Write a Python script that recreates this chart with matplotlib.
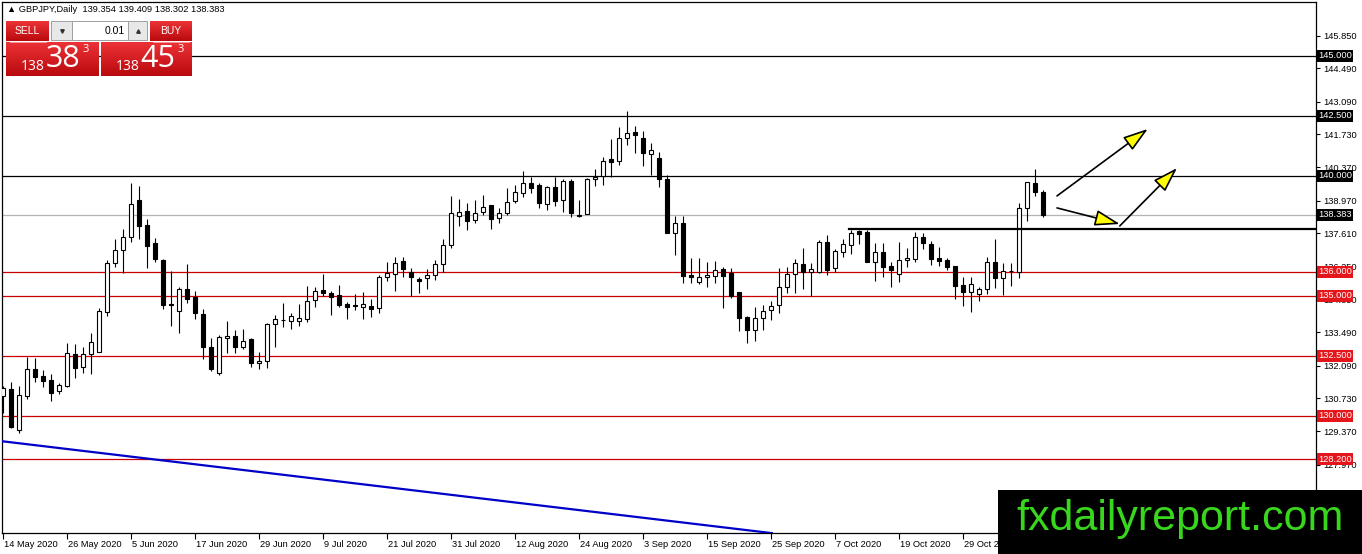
import numpy as np
import matplotlib.pyplot as plt
from matplotlib.patches import Rectangle, FancyArrowPatch
from matplotlib.colors import LinearSegmentedColormap
import matplotlib.transforms as mtransforms

plt.rcParams['font.family'] = ['Liberation Sans', 'DejaVu Sans']

# GBPJPY daily candles, 14 May 2020 onwards
opens = [130.85, 131.13, 129.40, 130.85, 131.94, 131.67, 131.50, 131.03, 131.26, 132.58,
         132.03, 132.58, 132.68, 134.35, 136.36, 136.90, 137.47, 139.00, 137.96, 137.19,
         136.50, 134.65, 134.39, 135.28, 134.94, 134.25, 132.86, 131.78, 133.24, 133.33,
         132.89, 133.21, 132.19, 132.28, 133.82, 134.01, 133.96, 133.97, 134.03, 134.83,
         135.25, 135.11, 135.04, 134.67, 134.62, 134.53, 134.60, 134.49, 135.78, 135.92,
         136.46, 136.01, 135.69, 135.74, 135.88, 136.32, 137.12, 138.35, 138.54, 138.17,
         138.49, 138.78, 138.24, 138.47, 138.97, 139.31, 139.69, 139.61, 138.82, 139.53,
         139.00, 139.79, 138.38, 138.40, 139.86, 140.00, 140.71, 140.64, 141.57, 141.85,
         141.57, 140.90, 140.74, 139.86, 137.61, 138.03, 135.88, 135.60, 135.78, 135.83,
         136.11, 135.94, 135.15, 134.11, 133.58, 134.07, 134.42, 134.63, 135.36, 135.92,
         136.33, 136.01, 136.01, 137.24, 136.15, 136.85, 137.13, 137.71, 137.65, 136.40,
         136.82, 136.25, 135.90, 136.49, 136.56, 137.44, 137.15, 136.58, 136.50, 136.25,
         135.44, 135.18, 135.07, 135.28, 136.40, 135.74, 136.03, 135.99, 138.65, 139.69,
         139.354]
highs = [131.25, 131.40, 131.25, 132.47, 132.40, 131.92, 131.75, 131.39, 133.06, 133.00,
         132.89, 133.44, 134.51, 136.50, 137.38, 137.78, 139.72, 139.60, 138.21, 137.40,
         136.53, 136.06, 135.39, 136.33, 135.19, 134.47, 133.24, 133.38, 133.97, 133.58,
         133.61, 133.24, 132.67, 133.86, 134.19, 134.72, 134.28, 134.67, 135.42, 135.39,
         135.92, 135.22, 135.46, 134.76, 135.08, 135.17, 134.86, 135.88, 136.43, 136.61,
         136.61, 136.15, 135.81, 136.14, 136.50, 137.39, 139.17, 139.03, 138.86, 139.00,
         139.21, 138.80, 138.65, 139.49, 139.63, 140.21, 139.94, 139.69, 139.58, 139.97,
         139.86, 139.86, 139.00, 139.92, 140.28, 140.81, 141.54, 142.03, 142.71, 142.10,
         141.89, 141.39, 141.01, 140.04, 138.33, 138.33, 136.60, 136.60, 136.40, 136.46,
         136.22, 136.18, 135.15, 134.15, 134.56, 134.63, 134.79, 136.18, 136.22, 136.54,
         136.99, 136.36, 137.33, 137.54, 136.94, 137.36, 137.75, 137.75, 137.75, 137.19,
         137.19, 136.40, 137.24, 136.99, 137.67, 137.61, 137.29, 137.03, 136.57, 136.25,
         135.78, 135.78, 135.39, 136.64, 137.36, 136.36, 136.39, 138.89, 139.74, 140.28,
         139.409]
lows = [130.11, 129.51, 129.28, 130.72, 131.40, 131.19, 130.64, 130.90, 131.22, 131.60,
        131.78, 131.74, 132.68, 134.18, 136.21, 135.94, 137.24, 137.38, 136.18, 136.43,
        134.44, 133.75, 133.47, 134.69, 134.03, 132.36, 131.89, 131.72, 132.61, 132.64,
        132.78, 132.06, 131.94, 131.99, 132.89, 133.69, 133.64, 133.75, 133.90, 134.56,
        135.00, 134.21, 134.56, 134.03, 134.42, 134.03, 134.11, 134.31, 135.64, 135.22,
        135.81, 135.00, 135.11, 135.28, 135.67, 136.01, 137.00, 137.90, 137.75, 138.03,
        138.38, 137.81, 138.06, 138.38, 138.86, 139.14, 139.31, 138.65, 138.58, 138.76,
        138.51, 138.28, 138.28, 138.40, 139.58, 139.63, 139.97, 140.46, 141.29, 140.97,
        140.42, 140.04, 139.56, 137.61, 136.69, 135.53, 135.53, 135.50, 135.39, 135.53,
        134.51, 134.90, 133.54, 133.03, 133.13, 133.58, 134.00, 134.31, 135.14, 135.14,
        135.29, 135.00, 135.94, 135.88, 136.01, 136.61, 136.75, 137.17, 136.43, 135.64,
        135.78, 135.36, 135.60, 136.19, 136.43, 136.94, 136.29, 136.25, 136.08, 134.86,
        134.58, 134.35, 134.81, 135.08, 135.32, 135.04, 135.42, 135.74, 138.13, 139.17,
        138.302]
closes = [131.15, 129.56, 130.86, 131.94, 131.61, 131.47, 130.97, 131.28, 132.61, 132.01,
          132.58, 133.10, 134.36, 136.36, 136.90, 137.44, 138.83, 137.93, 137.10, 136.53,
          134.64, 134.62, 135.28, 134.89, 134.31, 132.89, 131.94, 133.28, 133.33, 132.89,
          133.13, 132.22, 132.28, 133.82, 134.03, 133.99, 134.17, 134.10, 134.81, 135.22,
          135.11, 134.94, 134.64, 134.56, 134.60, 134.65, 134.47, 135.78, 135.94, 136.39,
          136.11, 135.78, 135.64, 135.86, 136.32, 137.11, 138.47, 138.49, 138.14, 138.44,
          138.69, 138.22, 138.47, 138.90, 139.32, 139.69, 139.51, 138.86, 139.53, 138.97,
          139.79, 138.47, 138.35, 139.89, 139.97, 140.61, 140.60, 141.57, 141.78, 141.71,
          140.97, 141.08, 139.86, 137.61, 138.03, 135.85, 135.81, 135.79, 135.88, 136.07,
          135.85, 135.01, 134.10, 133.58, 134.07, 134.39, 134.58, 135.36, 135.92, 136.36,
          136.01, 136.11, 137.24, 136.08, 136.89, 137.17, 137.64, 137.57, 136.43, 136.82,
          136.22, 136.08, 136.50, 136.57, 137.47, 137.19, 136.53, 136.47, 136.22, 135.43,
          135.18, 135.49, 135.28, 136.40, 135.74, 136.03, 136.04, 138.65, 139.74, 139.35,
          138.383]

date_labels = ['14 May 2020', '26 May 2020', '5 Jun 2020', '17 Jun 2020', '29 Jun 2020',
               '9 Jul 2020', '21 Jul 2020', '31 Jul 2020', '12 Aug 2020', '24 Aug 2020',
               '3 Sep 2020', '15 Sep 2020', '25 Sep 2020', '7 Oct 2020', '19 Oct 2020',
               '29 Oct 2020', '10 Nov 2020']
bars_per_label = 8

price_ticks = [145.85, 144.49, 143.09, 141.73, 140.37, 138.97, 137.61, 136.25,
               134.85, 133.49, 132.09, 130.73, 129.37, 127.97]
black_levels = [145.0, 142.5, 140.0]
red_levels = [136.0, 135.0, 132.5, 130.0, 128.2]
bid_price = 138.383
resist_price = 137.80
resist_from = 105.75
trend_x = [-0.4, 96.1]
trend_y = [128.96, 125.12]
# (bar0, price0, bar1, price1)
arrows = [(131.75, 139.17, 143.1, 141.96),
          (131.75, 138.67, 139.6, 138.00),
          (139.6, 137.92, 146.75, 140.33)]

W, H = 1362, 554
fig = plt.figure(figsize=(W / 100, H / 100), dpi=100)
ax = fig.add_axes([2 / W, (H - 533) / H, 1314 / W, 531 / H])
ax.set_xlim(-0.125, 164.125)
ax.set_ylim(125.125, 147.25)

x = np.arange(len(opens))
o = np.array(opens)
c = np.array(closes)
up = c >= o
bottoms = np.minimum(o, c)
heights = np.maximum(np.abs(c - o), 0.015)
ax.vlines(x, lows, highs, color='black', lw=0.8, zorder=3)
ax.bar(x, heights, bottom=bottoms, width=0.6,
       color=np.where(up, 'white', 'black'), edgecolor='black', lw=0.8, zorder=4)

# levels
for v in black_levels:
    ax.axhline(v, color='black', lw=0.9, zorder=2)
for v in red_levels:
    ax.axhline(v, color='#c80000', lw=0.9, zorder=2)
ax.axhline(bid_price, color='#b4b4b4', lw=0.9, zorder=2)
ax.plot([resist_from, 164.125], [resist_price, resist_price], color='black', lw=1.6, zorder=5)
ax.plot(trend_x, trend_y, color='#0000c8', lw=1.6, zorder=5)

for x0, y0, x1, y1 in arrows:
    ax.add_patch(FancyArrowPatch((x0, y0), (x1, y1),
                                 arrowstyle='-|>,head_length=1.4,head_width=0.45',
                                 mutation_scale=11, fc='#ffff00', ec='black', lw=1.2,
                                 shrinkA=0, shrinkB=0, zorder=6))

# axes styling
for s in ax.spines.values():
    s.set_color('black')
    s.set_linewidth(0.9)
ax.yaxis.tick_right()
ax.set_yticks(price_ticks)
ax.set_yticklabels(['%.3f' % v for v in price_ticks])
ax.tick_params(axis='y', direction='out', length=3, pad=2, labelsize=6.7, width=0.8)
ax.set_xticks(np.arange(len(date_labels)) * bars_per_label)
ax.set_xticklabels(date_labels, ha='left')
ax.tick_params(axis='x', direction='out', length=4, pad=1, labelsize=6.7, width=0.8)
for lab in ax.get_xticklabels():
    lab.set_transform(lab.get_transform() + mtransforms.ScaledTranslation(1 / 100, 0, fig.dpi_scale_trans))

trans = mtransforms.blended_transform_factory(ax.transAxes, ax.transData)
for v in black_levels + [bid_price]:
    ax.text(1.0015, v, '%.3f' % v, transform=trans, color='white', fontsize=6.7,
            ha='left', va='center', clip_on=False, zorder=8,
            bbox=dict(boxstyle='square,pad=0.15', fc='black', ec='none'))
for v in red_levels:
    ax.text(1.0015, v, '%.3f' % v, transform=trans, color='white', fontsize=6.7,
            ha='left', va='center', clip_on=False, zorder=8,
            bbox=dict(boxstyle='square,pad=0.15', fc='#e5161b', ec='none'))

# overlay in pixel coordinates: header, trade panel, watermark
ov = fig.add_axes([0, 0, 1, 1], zorder=10)
ov.axis('off')
reds = LinearSegmentedColormap.from_list('reds', ['#ec3236', '#b90a0e'])
grad = np.linspace(0, 1, 60).reshape(-1, 1)
for x0, y0, x1, y1 in [(6, 21, 49, 41), (150, 21, 192, 41), (6, 42, 99, 76), (101, 42, 192, 76)]:
    ov.imshow(grad, extent=[x0, x1, y1, y0], cmap=reds, aspect='auto', zorder=1)
ov.plot([10, 46], [41.5, 41.5], color='#f49a9a', lw=0.7, zorder=2)
ov.plot([153, 189], [41.5, 41.5], color='#f49a9a', lw=0.7, zorder=2)
ov.add_patch(Rectangle((51, 21), 96, 19, fc='#e8e8e8', ec='#a0a0a0', lw=0.7, zorder=2))
ov.add_patch(Rectangle((72, 21), 56, 19, fc='white', ec='#a0a0a0', lw=0.7, zorder=2))
ov.plot([61.5], [30.5], marker='v', ms=2.5, color='#333333', zorder=3)
ov.plot([137.5], [30.5], marker='^', ms=2.5, color='#333333', zorder=3)
ov.text(125, 31, '0.01', fontsize=7.5, ha='right', va='center', zorder=3)
ov.text(27, 31, 'SELL', fontsize=7.5, color='white', ha='center', va='center', zorder=3)
ov.text(171, 31, 'BUY', fontsize=7.5, color='white', ha='center', va='center', zorder=3)
for sx, big in [(0, '38'), (95, '45')]:
    ov.text(33 + sx, 66, '138', family='Open Sans', fontsize=10, color='white',
            ha='center', va='center', zorder=3)
    ov.text(63 + sx, 59, big, family='Open Sans', fontsize=22, color='white',
            ha='center', va='center', zorder=3)
    ov.text(85.5 + sx, 50, '3', family='Open Sans', fontsize=8, color='white',
            ha='center', va='center', zorder=3)
ov.text(7, 10, '\u25b2 GBPJPY,Daily  139.354 139.409 138.302 138.383', fontsize=6.7,
        ha='left', va='center', zorder=3)

ov.add_patch(Rectangle((998, 490), 364, 64, fc='black', ec='none', zorder=4))
ov.text(1180, 519, 'fxdailyreport.com', fontsize=31, color='#38d61c',
        ha='center', va='center', zorder=5)
ov.set_xlim(0, W)
ov.set_ylim(H, 0)

fig.savefig('out.png', dpi=100, facecolor='white')
